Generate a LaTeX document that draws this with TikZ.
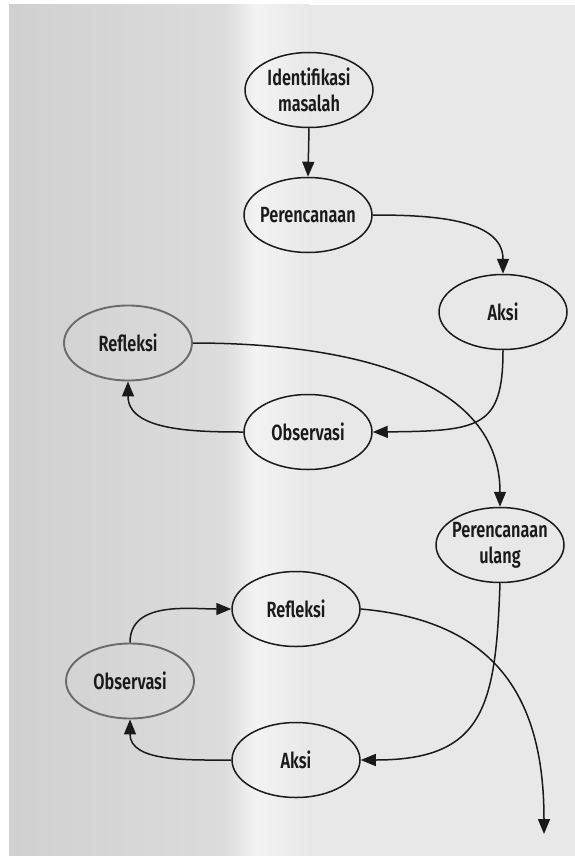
\documentclass[tikz,border=0pt]{standalone}
\usepackage{fontspec}
\setmainfont{Fira Sans}[FakeStretch=0.74, UprightFont=* SemiBold]
\usetikzlibrary{shapes.geometric,arrows.meta}
\definecolor{ink}{HTML}{1A1A1A}
\definecolor{fadeink}{HTML}{6A6A6A}
\definecolor{pageA}{HTML}{D0D0D0}
\definecolor{pageB}{HTML}{DCDCDC}
\definecolor{pageC}{HTML}{F3F3F3}
\definecolor{pageD}{HTML}{E8E8E8}
\tikzset{
  stage/.style={ellipse, draw=ink, line width=1.5pt, minimum width=128pt,
    minimum height=75pt, inner sep=0pt},
  faded/.style={stage, draw=fadeink, line width=1.9pt},
  caption/.style={font=\fontsize{22}{26}\selectfont, text=ink, align=center,
    inner sep=0pt},
  flow/.style={draw=ink, line width=1.5pt, -{Triangle[length=15pt,width=12pt]}}
}
\begin{document}
\begin{tikzpicture}[x=1pt,y=-1pt]
  % paper
  \useasboundingbox (0,0) rectangle (575,856);
  \fill[white] (0,0) rectangle (575,856);
  \shade[left color=pageA, right color=pageB] (9,5) rectangle (225,856);
  \shade[left color=pageB, right color=pageC] (225,5) rectangle (255,856);
  \shade[left color=pageC, right color=pageD] (255,5) rectangle (310,856);
  \fill[pageD] (310,5) rectangle (575,856);

  % first cycle
  \node[stage, label={[caption]center:Identifikasi\\masalah}] (idm) at (309,90) {};
  \node[stage, label={[caption]center:Perencanaan}] (plan) at (308,215) {};
  \node[stage, label={[caption]center:Aksi}] (act) at (503,312) {};
  \node[stage, label={[caption]center:Observasi}] (obs) at (308,432) {};
  \node[faded, label={[caption]center:Refleksi}] (refl) at (128,343) {};

  % second cycle
  \node[stage, label={[caption]center:Perencanaan\\ulang}] (replan) at (500,545) {};
  \node[stage, label={[caption]center:Aksi}] (act2) at (296,760) {};
  \node[faded, label={[caption]center:Observasi}] (obs2) at (130,681) {};
  \node[stage, label={[caption]center:Refleksi}] (refl2) at (296,609) {};
  \coordinate (next) at (544,834);

  % connectors
  \draw[flow] (idm.south) -- (plan.north);
  \draw[flow] (plan.east) to[out=0,in=90] (act.north);
  \draw[flow] (act.south) .. controls (503,428) and (480,431) .. (obs.east);
  \draw[flow] (obs.west) to[out=180,in=-90] (refl.south);
  \draw[flow] (refl.east) to[out=0,in=90] (replan.north);
  \draw[flow] (replan.south) to[out=-92,in=0,looseness=1.4] (act2.east);
  \draw[flow] (act2.west) to[out=180,in=-90] (obs2.south);
  \draw[flow] (obs2.north) to[out=90,in=180] (refl2.west);
  \draw[flow] (refl2.east) to[out=-5,in=90,looseness=1.2] (next);
\end{tikzpicture}
\end{document}
